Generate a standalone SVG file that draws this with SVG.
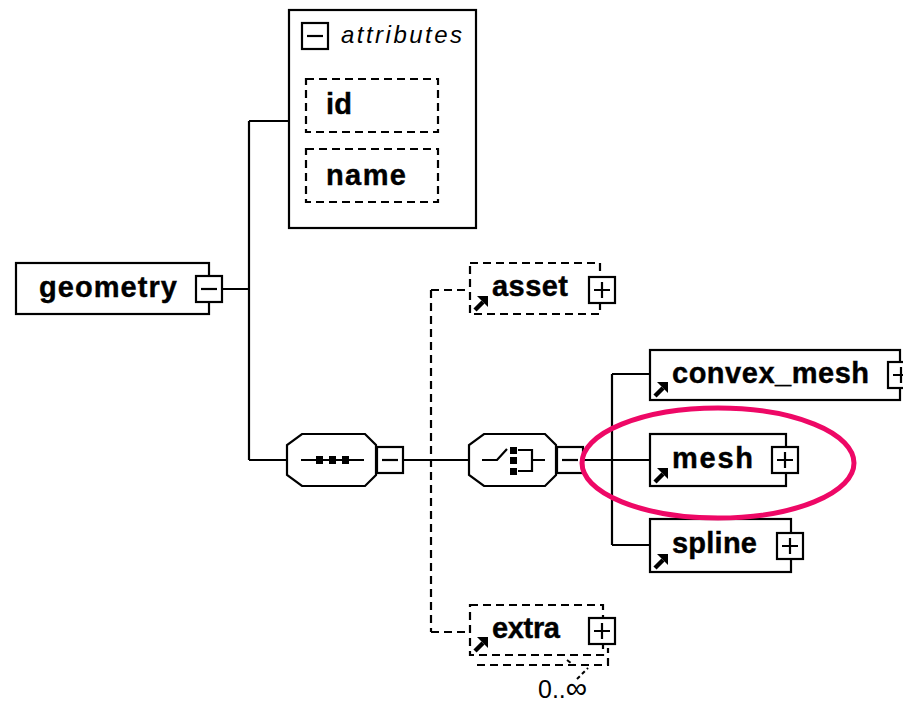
<svg xmlns="http://www.w3.org/2000/svg" width="903" height="703" viewBox="0 0 903 703">
  <style>
    .box { fill: #fff; stroke: #000; stroke-width: 2.2; }
    .opt { fill: #fff; stroke: #000; stroke-width: 2.2; stroke-dasharray: 8 5; }
    .wire { fill: none; stroke: #000; stroke-width: 2.2; }
    .dwire { fill: none; stroke: #000; stroke-width: 2.2; stroke-dasharray: 8 5; }
    .lbl { font-family: "Liberation Sans", Arial, sans-serif; font-weight: bold; font-size: 29px; fill: #000; stroke: #000; stroke-width: 0.4; }
    .ital { font-family: "Liberation Sans", Arial, sans-serif; font-style: italic; font-size: 24px; fill: #000; }
    .card { font-family: "Liberation Sans", Arial, sans-serif; font-size: 25px; fill: #000; }
    .mark { fill: none; stroke: #ee0866; stroke-width: 5; }
  </style>
  <defs>
    <!-- expand / collapse toggles -->
    <g id="plus">
      <rect class="box" x="0" y="0" width="26" height="26"/>
      <path class="wire" d="M5 13 H21 M13 5 V21"/>
    </g>
    <g id="minus">
      <rect class="box" x="0" y="0" width="26" height="26"/>
      <path class="wire" d="M5 13 H21"/>
    </g>
    <!-- reference arrow in lower-left corner of element boxes -->
    <g id="ref">
      <path d="M5 -4 L13 -12" stroke="#000" stroke-width="4.5" fill="none"/>
      <polygon points="7,-18 18,-18 18,-7" fill="#000"/>
    </g>
  </defs>

  <!-- connectors -->
  <g id="connectors">
    <path class="wire" d="M222 289 H249 M249 121 V460 M249 121 H289 M249 460 H287"/>
    <path class="wire" d="M403 460 H469"/>
    <path class="dwire" d="M431 290 V632 M431 290 H470 M431 632 H470"/>
    <path class="wire" d="M582 460 H650 M612 374 V545 M612 374 H650 M612 545 H650"/>
  </g>

  <!-- root element -->
  <g id="geometry">
    <rect class="box" x="16" y="263" width="193" height="51"/>
    <text class="lbl" x="39" y="297" textLength="138">geometry</text>
    <use href="#minus" x="196" y="276"/>
  </g>

  <!-- attribute group -->
  <g id="attributes">
    <rect class="box" x="289" y="10" width="187" height="218"/>
    <use href="#minus" x="302" y="23"/>
    <text class="ital" x="341" y="43" textLength="121">attributes</text>
  </g>
  <g id="attr-id">
    <rect class="opt" x="306" y="79" width="132" height="53"/>
    <text class="lbl" x="326" y="114" textLength="26">id</text>
  </g>
  <g id="attr-name">
    <rect class="opt" x="306" y="149" width="132" height="53"/>
    <text class="lbl" x="326" y="185" textLength="80">name</text>
  </g>

  <!-- sequence compositor -->
  <g id="sequence">
    <polygon class="box" points="302,434 365,434 376,445 376,475 365,486 302,486 287,475 287,445"/>
    <path class="wire" d="M301 460 H364"/>
    <rect x="316" y="456" width="7" height="8" fill="#000"/>
    <rect x="329" y="456" width="7" height="8" fill="#000"/>
    <rect x="342" y="456" width="7" height="8" fill="#000"/>
    <use href="#minus" x="377" y="447"/>
  </g>

  <!-- choice compositor -->
  <g id="choice">
    <polygon class="box" points="484,434 545,434 556,445 556,475 545,486 484,486 469,475 469,445"/>
    <path class="wire" d="M482 460 H497 L507 449"/>
    <rect x="510" y="447" width="7" height="7" fill="#000"/>
    <rect x="510" y="457" width="7" height="7" fill="#000"/>
    <rect x="510" y="468" width="7" height="7" fill="#000"/>
    <path class="wire" d="M518 450 H532 V471 H518 M532 460 H545"/>
    <use href="#minus" x="557" y="447"/>
  </g>

  <!-- optional children -->
  <g id="asset">
    <rect class="opt" x="470" y="263" width="130" height="51"/>
    <use href="#ref" x="470" y="314"/>
    <text class="lbl" x="492" y="296" textLength="76">asset</text>
    <use href="#plus" x="589" y="277"/>
  </g>
  <g id="extra">
    <path class="dwire" d="M477 665 H608 V648"/>
    <rect class="opt" x="470" y="605" width="133" height="50"/>
    <use href="#ref" x="470" y="655"/>
    <text class="lbl" x="492" y="638" textLength="68">extra</text>
    <use href="#plus" x="589" y="618"/>
    <path d="M567 660 Q571 663 573 665 M577 679 L588 668" stroke="#000" stroke-width="2" fill="none" stroke-dasharray="4 3"/>
    <text class="card" x="538" y="698">0..<tspan font-size="30">∞</tspan></text>
  </g>

  <!-- choice members -->
  <g id="convex_mesh">
    <rect class="box" x="650" y="350" width="250" height="50"/>
    <use href="#ref" x="650" y="400"/>
    <text class="lbl" x="672" y="383" textLength="197">convex_mesh</text>
    <use href="#plus" x="888" y="362"/>
  </g>
  <g id="mesh">
    <rect class="box" x="650" y="434" width="136" height="52"/>
    <use href="#ref" x="650" y="486"/>
    <text class="lbl" x="672" y="468" textLength="81">mesh</text>
    <use href="#plus" x="772" y="447"/>
  </g>
  <g id="spline">
    <rect class="box" x="650" y="519" width="141" height="53"/>
    <use href="#ref" x="650" y="572"/>
    <text class="lbl" x="672" y="553" textLength="85">spline</text>
    <use href="#plus" x="777" y="533"/>
  </g>

  <!-- highlight around mesh -->
  <ellipse class="mark" cx="718" cy="463" rx="136" ry="55"/>
</svg>
